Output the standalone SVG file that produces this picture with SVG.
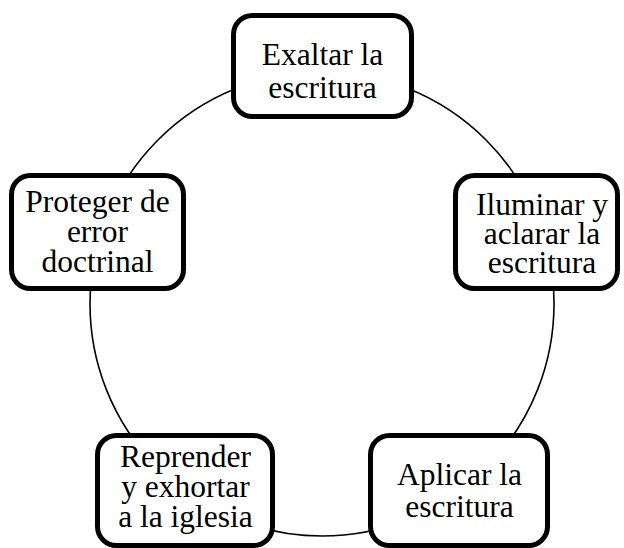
<svg xmlns="http://www.w3.org/2000/svg" width="624" height="548" viewBox="0 0 624 548">
<style>
.box{fill:#fff;stroke:#000;stroke-width:5}
text{font-size:31.5px;fill:#000;text-anchor:middle}
</style>
<rect width="624" height="548" fill="#fff"/>
<g id="connectors">
<circle cx="322" cy="304" r="232" fill="none" stroke="#000" stroke-width="1.6"/>
</g>
<g id="n1"><rect class="box" x="233.5" y="15.5" width="178" height="101" rx="19"/>
<text x="322.5" y="65" font-family="'Liberation Serif',serif">Exaltar la</text><text x="322.5" y="98" font-family="'Liberation Serif',serif">escritura</text></g>
<g id="n2"><rect class="box" x="455.5" y="175.5" width="162" height="113" rx="19"/>
<text x="542" y="215" font-family="'Liberation Serif',serif">Iluminar y</text><text x="542" y="244" font-family="'Liberation Serif',serif">aclarar la</text><text x="542" y="273" font-family="'Liberation Serif',serif">escritura</text></g>
<g id="n3"><rect class="box" x="370.5" y="435.5" width="177" height="110" rx="19"/>
<text x="459.5" y="485" font-family="'Liberation Serif',serif">Aplicar la</text><text x="459.5" y="517" font-family="'Liberation Serif',serif">escritura</text></g>
<g id="n4"><rect class="box" x="97.5" y="435.5" width="175" height="110" rx="19"/>
<text x="185.5" y="467" font-family="'Liberation Serif',serif">Reprender</text><text x="185.5" y="497" font-family="'Liberation Serif',serif">y exhortar</text><text x="185.5" y="527" font-family="'Liberation Serif',serif">a la iglesia</text></g>
<g id="n5"><rect class="box" x="11.5" y="175.5" width="172" height="113" rx="19"/>
<text x="97.5" y="212" font-family="'Liberation Serif',serif">Proteger de</text><text x="97.5" y="242" font-family="'Liberation Serif',serif">error</text><text x="97.5" y="272" font-family="'Liberation Serif',serif">doctrinal</text></g>
</svg>
